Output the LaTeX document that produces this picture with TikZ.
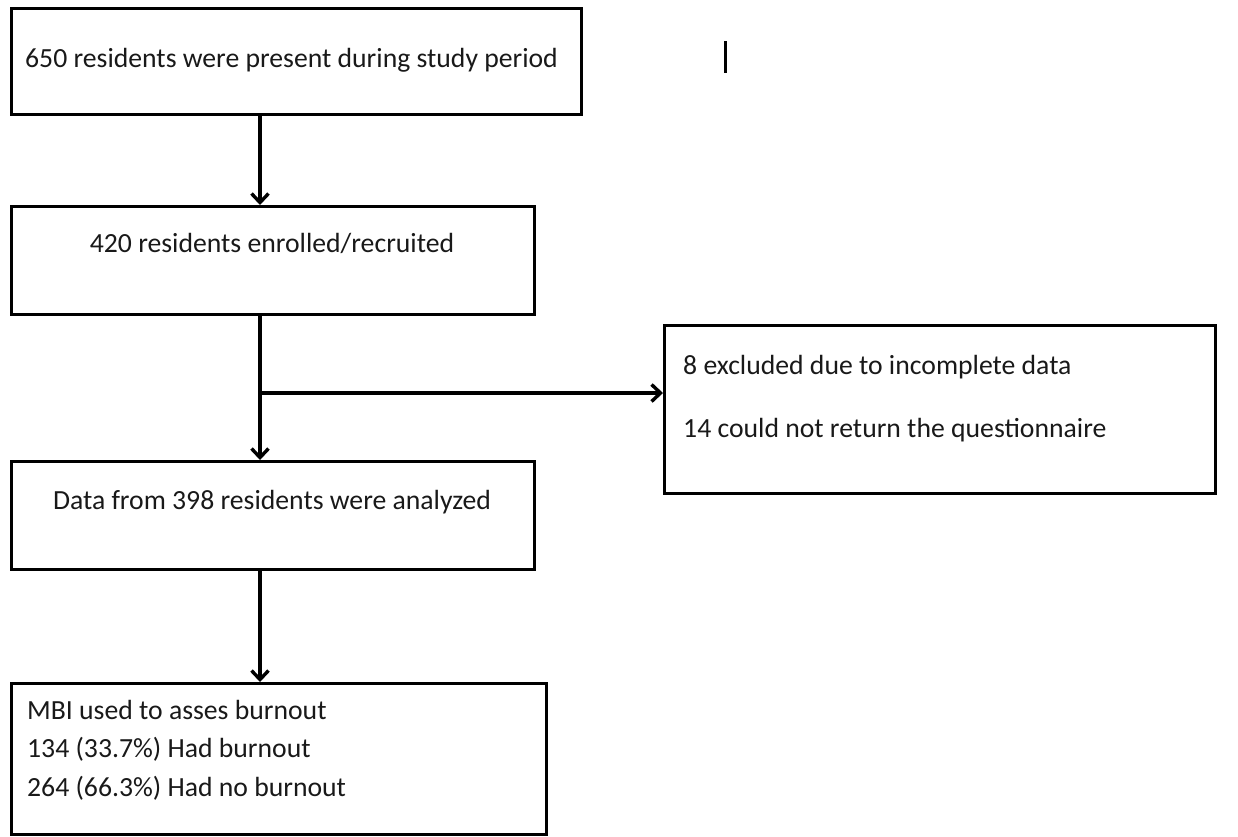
\documentclass[tikz,border=0pt]{standalone}
\usepackage{fontspec}
\setmainfont{Carlito}
\usetikzlibrary{arrows.meta}
\begin{document}
\begin{tikzpicture}[x=1pt,y=-1pt,
  box/.style={draw=black,line width=3pt,inner sep=0pt,anchor=north west},
  txt/.style={inner sep=0pt,anchor=base west,font=\fontsize{27.7}{33}\selectfont,text=black!90},
  arr/.style={draw=black,line width=3.4pt,-{Straight Barb[length=9pt,width=17pt]}}]
\useasboundingbox (0,0) rectangle (1238,836);
% boxes
\node[box,minimum width=570pt,minimum height=106pt] (b1) at (10,7) {};
\node[box,minimum width=523pt,minimum height=108pt] (b2) at (10,205) {};
\node[box,minimum width=551pt,minimum height=168pt] (b3) at (663,324) {};
\node[box,minimum width=523pt,minimum height=108pt] (b4) at (10,460) {};
\node[box,minimum width=535pt,minimum height=151pt] (b5) at (10,682) {};
% texts
\node[txt] (t1) at (25,67) {650 residents were present during study period};
\node[txt,anchor=base] (t2) at (272,252) {420 residents enrolled/recruited};
\node[txt] (t3a) at (683,374) {8 excluded due to incomplete data};
\node[txt] (t3b) at (683,437) {14 could not return the questionnaire};
\node[txt,anchor=base] (t4) at (272,509) {Data from 398 residents were analyzed};
\node[txt] (t5a) at (27,719) {MBI used to asses burnout};
\node[txt] (t5b) at (27,757) {134 (33.7\%) Had burnout};
\node[txt] (t5c) at (27,796) {264 (66.3\%) Had no burnout};
% connectors
\coordinate (ax) at (260,0);
\coordinate (br) at (260,393);
\draw[arr] (ax |- b1.south) -- (ax |- b2.north);
\draw[arr] (ax |- b2.south) -- (ax |- b4.north);
\draw[arr] (br) -- (br -| b3.west);
\draw[arr] (ax |- b4.south) -- (ax |- b5.north);
% stray mark
\draw[line width=3pt] (725,41) -- (725,73);
\end{tikzpicture}
\end{document}
